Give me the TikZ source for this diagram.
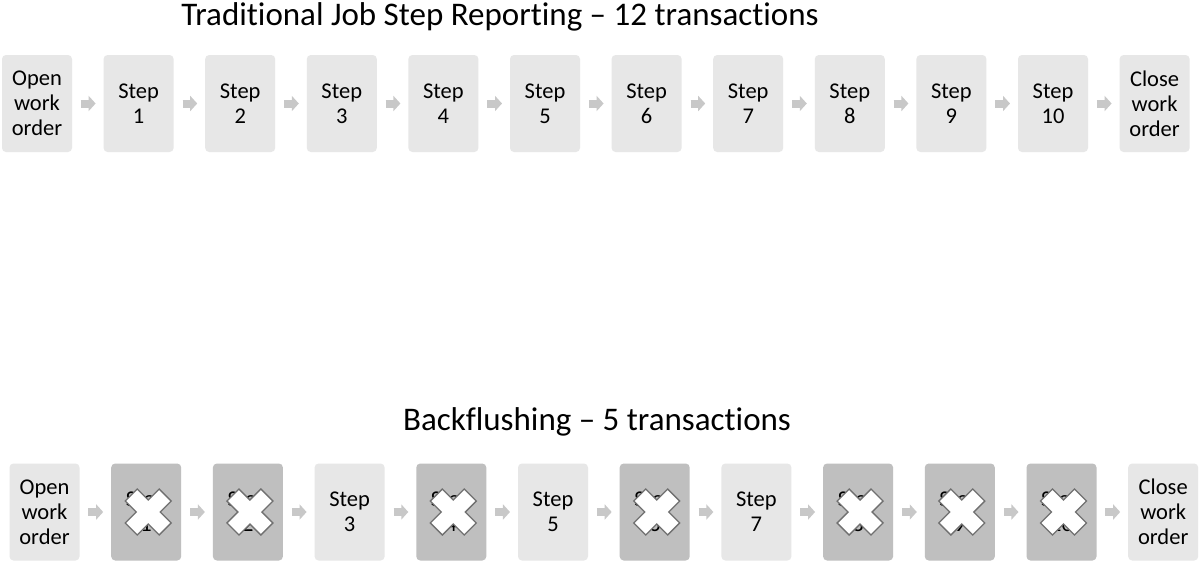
\documentclass[tikz,border=0pt]{standalone}
\usepackage{fontspec}
\setmainfont{Carlito}[Ligatures=CommonOff]
\usetikzlibrary{calc,arrows.meta}
\definecolor{lightbox}{HTML}{E7E7E7}
\definecolor{darkbox}{HTML}{BFBFBF}
\definecolor{arrowgray}{HTML}{C8C8C8}
\definecolor{xedge}{HTML}{707070}
\tikzset{
  box/.style={minimum width=70pt,minimum height=97pt,inner sep=0pt,rounded corners=4pt,
    align=center,font=\fontsize{22.5}{25}\selectfont,text=black},
  lbox/.style={box,fill=lightbox},
  dbox/.style={box,fill=darkbox},
  conn/.style={draw=arrowgray,line width=8pt,-{Triangle[length=7pt,width=15pt]},color=arrowgray},
  title/.style={font=\fontsize{33}{38}\selectfont,inner sep=0pt},
  xline/.style={draw=xedge,fill=white,line width=1.3pt,line join=miter},
  xcross/.pic={\path[xline,rotate=45] (8.5,24) -- (8.5,8.5) -- (24,8.5) -- (24,-8.5) -- (8.5,-8.5) -- (8.5,-24) -- (-8.5,-24) -- (-8.5,-8.5) -- (-24,-8.5) -- (-24,8.5) -- (-8.5,8.5) -- (-8.5,24) -- cycle;}
}
\begin{document}
\begin{tikzpicture}[x=1pt,y=-1pt]
\useasboundingbox[fill=white] (0,0) rectangle (1200,563);
% titles
\node[title] (title1) at (500,17) {Traditional Job Step Reporting – 12 transactions};
\node[title] (title2) at (597,422) {Backflushing – 5 transactions};
% top row
\node[lbox] (t0) at (37,103.5) {Open\\work\\order};
\foreach \i in {1,...,10} \node[lbox] (t\i) at ({37+101.6*\i},103.5) {Step\\\i};
\node[lbox] (t11) at ({37+101.6*11},103.5) {Close\\work\\order};
\foreach \i [evaluate=\i as \j using {int(\i+1)}] in {0,...,10}
  \draw[conn] ($(t\i.east)!0.28!(t\j.west)$) -- ($(t\i.east)!0.75!(t\j.west)$);
% bottom row
\node[lbox] (b0) at (44.5,512) {Open\\work\\order};
\foreach \i in {1,2,4,6,8,9,10} \node[dbox] (b\i) at ({44.5+101.7*\i},512) {Step\\\i};
\foreach \i in {3,5,7} \node[lbox] (b\i) at ({44.5+101.7*\i},512) {Step\\\i};
\node[lbox] (b11) at ({44.5+101.7*11},512) {Close\\work\\order};
\foreach \i [evaluate=\i as \j using {int(\i+1)}] in {0,...,10}
  \draw[conn] ($(b\i.east)!0.28!(b\j.west)$) -- ($(b\i.east)!0.75!(b\j.west)$);
\foreach \i in {1,2,4,6,8,9,10} \pic at ($(b\i.center)+(2,0)$) {xcross};
\end{tikzpicture}
\end{document}
